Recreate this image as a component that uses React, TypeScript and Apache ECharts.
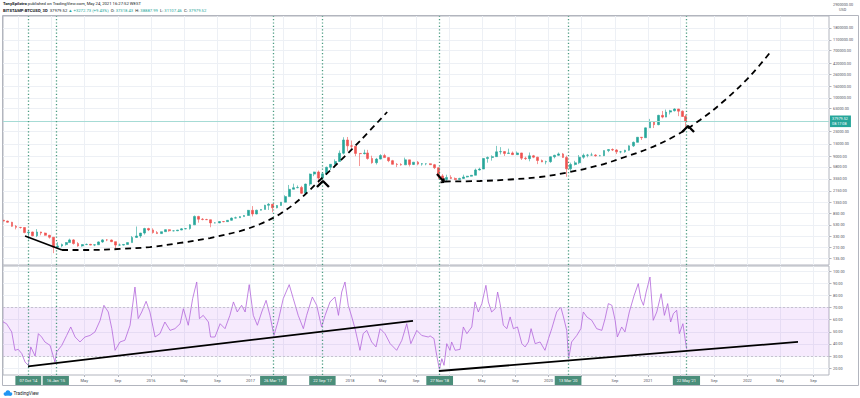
import { useEffect, useRef } from "react";
import * as echarts from "echarts";

// [date (mid-period), open, high, low, close] — roughly semi-monthly candles
const candles: [string, number, number, number, number][] = [
  ["2014-07-08", 640, 650, 615, 620], ["2014-07-23", 620, 630, 580, 590],
  ["2014-08-08", 590, 600, 490, 500], ["2014-08-23", 500, 525, 440, 478],
  ["2014-09-08", 478, 485, 455, 475], ["2014-09-23", 475, 480, 375, 385],
  ["2014-10-08", 385, 410, 290, 395], ["2014-10-23", 395, 400, 330, 338],
  ["2014-11-08", 338, 445, 320, 395], ["2014-11-23", 395, 400, 345, 378],
  ["2014-12-08", 378, 385, 340, 345], ["2014-12-23", 345, 350, 300, 318],
  ["2015-01-08", 318, 320, 165, 210], ["2015-01-23", 210, 260, 200, 222],
  ["2015-02-08", 222, 245, 210, 235], ["2015-02-23", 235, 260, 225, 255],
  ["2015-03-08", 255, 300, 255, 285], ["2015-03-23", 285, 295, 235, 245],
  ["2015-04-08", 245, 260, 215, 222], ["2015-04-23", 222, 238, 215, 235],
  ["2015-05-08", 235, 245, 230, 237], ["2015-05-23", 237, 242, 228, 230],
  ["2015-06-08", 230, 238, 220, 233], ["2015-06-23", 233, 268, 232, 262],
  ["2015-07-08", 262, 295, 252, 285], ["2015-07-23", 285, 295, 270, 284],
  ["2015-08-08", 284, 290, 260, 265], ["2015-08-23", 265, 265, 200, 230],
  ["2015-09-08", 230, 245, 225, 230], ["2015-09-23", 230, 240, 225, 236],
  ["2015-10-08", 236, 255, 235, 255], ["2015-10-23", 255, 335, 255, 315],
  ["2015-11-08", 315, 495, 310, 335], ["2015-11-23", 335, 380, 310, 378],
  ["2015-12-08", 378, 470, 355, 455], ["2015-12-23", 455, 470, 410, 430],
  ["2016-01-08", 430, 460, 370, 385], ["2016-01-23", 385, 410, 365, 370],
  ["2016-02-08", 370, 400, 365, 400], ["2016-02-23", 400, 440, 400, 435],
  ["2016-03-08", 435, 440, 400, 415], ["2016-03-23", 415, 420, 405, 415],
  ["2016-04-08", 415, 430, 410, 428], ["2016-04-23", 428, 465, 425, 450],
  ["2016-05-08", 450, 465, 440, 455], ["2016-05-23", 455, 545, 435, 530],
  ["2016-06-08", 530, 780, 530, 750], ["2016-06-23", 750, 770, 580, 670],
  ["2016-07-08", 670, 700, 640, 660], ["2016-07-23", 660, 680, 650, 655],
  ["2016-08-08", 655, 660, 480, 575], ["2016-08-23", 575, 590, 565, 575],
  ["2016-09-08", 575, 615, 570, 608], ["2016-09-23", 608, 610, 590, 605],
  ["2016-10-08", 605, 645, 605, 640], ["2016-10-23", 640, 720, 630, 700],
  ["2016-11-08", 700, 745, 690, 710], ["2016-11-23", 710, 755, 705, 745],
  ["2016-12-08", 745, 790, 745, 780], ["2016-12-23", 780, 980, 780, 965],
  ["2017-01-08", 965, 1150, 750, 830], ["2017-01-23", 830, 990, 820, 970],
  ["2017-02-08", 970, 1010, 960, 1000], ["2017-02-23", 1000, 1210, 1000, 1190],
  ["2017-03-08", 1190, 1300, 980, 1240], ["2017-03-23", 1240, 1260, 890, 1070],
  ["2017-04-08", 1070, 1200, 1050, 1180], ["2017-04-23", 1180, 1360, 1170, 1350],
  ["2017-05-08", 1350, 1800, 1340, 1700], ["2017-05-23", 1700, 2750, 1700, 2300],
  ["2017-06-08", 2300, 2900, 2300, 2450], ["2017-06-23", 2450, 2700, 2400, 2480],
  ["2017-07-08", 2480, 2650, 1900, 1950], ["2017-07-23", 1950, 2900, 1850, 2850],
  ["2017-08-08", 2850, 4400, 2650, 4300], ["2017-08-23", 4300, 4750, 3950, 4700],
  ["2017-09-08", 4700, 5000, 2950, 3650], ["2017-09-23", 3650, 4400, 3550, 4350],
  ["2017-10-08", 4350, 5850, 4150, 5700], ["2017-10-23", 5700, 6450, 5100, 6450],
  ["2017-11-08", 6450, 7900, 5550, 7250], ["2017-11-23", 7250, 11400, 7200, 10200],
  ["2017-12-08", 10200, 19700, 9700, 17600], ["2017-12-23", 17600, 19900, 11000, 13800],
  ["2018-01-08", 13800, 17200, 12500, 13600], ["2018-01-23", 13600, 13700, 9000, 10100],
  ["2018-02-08", 10100, 10200, 6000, 10000], ["2018-02-23", 10000, 11800, 9700, 10300],
  ["2018-03-08", 10300, 11700, 7800, 8200], ["2018-03-23", 8200, 9200, 6600, 6900],
  ["2018-04-08", 6900, 8400, 6400, 8000], ["2018-04-23", 8000, 9800, 7900, 9250],
  ["2018-05-08", 9250, 9950, 8400, 8500], ["2018-05-23", 8500, 8600, 7050, 7500],
  ["2018-06-08", 7500, 7750, 6400, 6450], ["2018-06-23", 6450, 6800, 5750, 6400],
  ["2018-07-08", 6400, 6750, 6100, 6300], ["2018-07-23", 6300, 8500, 6300, 7750],
  ["2018-08-08", 7750, 7750, 5900, 6400], ["2018-08-23", 6400, 7100, 6250, 7050],
  ["2018-09-08", 7050, 7400, 6200, 6500], ["2018-09-23", 6500, 6800, 6100, 6600],
  ["2018-10-08", 6600, 6700, 6200, 6600], ["2018-10-23", 6600, 6700, 6300, 6350],
  ["2018-11-08", 6350, 6550, 5300, 5600], ["2018-11-23", 5600, 5650, 3500, 4000],
  ["2018-12-08", 4000, 4300, 3150, 3450], ["2018-12-23", 3450, 4200, 3250, 3750],
  ["2019-01-08", 3750, 4100, 3500, 3600], ["2019-01-23", 3600, 3750, 3350, 3450],
  ["2019-02-08", 3450, 3700, 3400, 3600], ["2019-02-23", 3600, 4200, 3550, 3820],
  ["2019-03-08", 3820, 4000, 3750, 3950], ["2019-03-23", 3950, 4150, 3900, 4100],
  ["2019-04-08", 4100, 5400, 4100, 5100], ["2019-04-23", 5100, 5600, 5000, 5300],
  ["2019-05-08", 5300, 8300, 5300, 8200], ["2019-05-23", 8200, 8900, 6900, 8550],
  ["2019-06-08", 8550, 9350, 7500, 8850], ["2019-06-23", 8850, 13800, 8850, 10800],
  ["2019-07-08", 10800, 13100, 9700, 10900], ["2019-07-23", 10900, 11100, 9100, 10100],
  ["2019-08-08", 10100, 12300, 10000, 10300], ["2019-08-23", 10300, 10950, 9450, 9600],
  ["2019-09-08", 9600, 10950, 9550, 10300], ["2019-09-23", 10300, 10350, 7700, 8300],
  ["2019-10-08", 8300, 8850, 7700, 8150], ["2019-10-23", 8150, 10500, 7300, 9150],
  ["2019-11-08", 9150, 9500, 8300, 8650], ["2019-11-23", 8650, 8800, 6500, 7550],
  ["2019-12-08", 7550, 7850, 7050, 7100], ["2019-12-23", 7100, 7500, 6450, 7200],
  ["2020-01-08", 7200, 8900, 6850, 8800], ["2020-01-23", 8800, 9550, 8250, 9350],
  ["2020-02-08", 9350, 10500, 9150, 9900], ["2020-02-23", 9900, 10300, 8450, 8550],
  ["2020-03-08", 8550, 9200, 3850, 5350], ["2020-03-23", 5350, 6900, 4900, 6400],
  ["2020-04-08", 6400, 7450, 6150, 6850], ["2020-04-23", 6850, 9450, 6500, 8650],
  ["2020-05-08", 8650, 10050, 8100, 9350], ["2020-05-23", 9350, 9900, 8600, 9450],
  ["2020-06-08", 9450, 10400, 9250, 9450], ["2020-06-23", 9450, 9800, 8850, 9150],
  ["2020-07-08", 9150, 9500, 9000, 9200], ["2020-07-23", 9200, 11450, 9050, 11350],
  ["2020-08-08", 11350, 12100, 10650, 11850], ["2020-08-23", 11850, 12450, 11150, 11650],
  ["2020-09-08", 11650, 12050, 9850, 10800], ["2020-09-23", 10800, 11200, 10150, 10800],
  ["2020-10-08", 10800, 11750, 10400, 11500], ["2020-10-23", 11500, 14100, 11300, 13800],
  ["2020-11-08", 13800, 16500, 13200, 15950], ["2020-11-23", 15950, 19850, 15900, 19700],
  ["2020-12-08", 19700, 19900, 17600, 19300], ["2020-12-23", 19300, 29300, 19300, 29000],
  ["2021-01-08", 29000, 42000, 29000, 36800], ["2021-01-23", 36800, 38500, 28800, 33100],
  ["2021-02-08", 33100, 49700, 32300, 48600], ["2021-02-23", 48600, 58350, 43000, 45200],
  ["2021-03-08", 45200, 61800, 45000, 55600], ["2021-03-23", 55600, 61000, 50500, 58800],
  ["2021-04-08", 58800, 64900, 57000, 63200], ["2021-04-23", 63200, 63500, 47000, 57700],
  ["2021-05-08", 57700, 59600, 45700, 46400], ["2021-05-20", 46400, 50000, 30000, 37979.52],
];

// RSI(14) readings [date, value]
const rsiPoints: [string, number][] = [
  ["2014-07-02", 58.7], ["2014-07-19", 56.7], ["2014-08-07", 49.9], ["2014-08-19", 34.7], ["2014-08-31", 35.5],
  ["2014-09-13", 32], ["2014-09-25", 25], ["2014-10-07", 22.3], ["2014-10-16", 37.5], ["2014-11-01", 30],
  ["2014-11-13", 48.5], ["2014-11-25", 45.7], ["2014-12-07", 41.6], ["2014-12-26", 38.8], ["2015-01-13", 25],
  ["2015-01-19", 33.3], ["2015-02-07", 38.8], ["2015-02-25", 47], ["2015-03-12", 54], ["2015-03-28", 45.7],
  ["2015-04-15", 41.6], ["2015-05-03", 45.7], ["2015-05-22", 47], ["2015-06-09", 49.9], ["2015-06-28", 59.5],
  ["2015-07-12", 71.9], ["2015-07-28", 66.4], ["2015-08-10", 52.6], ["2015-08-22", 34.7], ["2015-09-09", 41.6],
  ["2015-09-27", 43], ["2015-10-16", 55.4], ["2015-11-03", 87], ["2015-11-15", 60.9], ["2015-11-28", 66.4],
  ["2015-12-14", 75.2], ["2015-12-28", 66.4], ["2016-01-16", 45.7], ["2016-02-03", 48.5], ["2016-02-21", 58.1],
  ["2016-03-11", 51.2], ["2016-03-29", 52.6], ["2016-04-17", 56.7], ["2016-04-29", 69.1], ["2016-05-17", 55.4],
  ["2016-06-02", 77.4], ["2016-06-17", 91.2], ["2016-06-27", 60.9], ["2016-07-11", 63.6], ["2016-07-30", 58.1],
  ["2016-08-07", 45.7], ["2016-08-23", 45.7], ["2016-09-11", 56.7], ["2016-09-29", 52.6], ["2016-10-17", 63.6],
  ["2016-10-30", 74.7], ["2016-11-13", 66.4], ["2016-11-29", 71.9], ["2016-12-12", 66.4], ["2016-12-27", 89],
  ["2017-01-11", 63.6], ["2017-01-26", 55.4], ["2017-02-11", 66.4], ["2017-02-27", 76], ["2017-03-13", 63.6],
  ["2017-03-28", 47], ["2017-04-13", 59.5], ["2017-05-01", 77.4], ["2017-05-23", 89], ["2017-06-07", 77.4],
  ["2017-06-25", 63.6], ["2017-07-14", 52.6], ["2017-07-26", 63.6], ["2017-08-16", 78.8], ["2017-09-01", 71.9],
  ["2017-09-19", 54], ["2017-10-02", 63.6], ["2017-10-20", 74.7], ["2017-11-07", 78.8], ["2017-11-20", 63.6],
  ["2017-12-02", 82.9], ["2017-12-14", 91.2], ["2017-12-26", 71.9], ["2018-01-08", 62.3], ["2018-01-20", 52.6],
  ["2018-02-07", 34.7], ["2018-02-19", 48.5], ["2018-03-04", 51.2], ["2018-03-22", 41.6], ["2018-04-07", 37.5],
  ["2018-04-22", 52.6], ["2018-05-10", 48.5], ["2018-05-29", 40.2], ["2018-06-22", 34.7], ["2018-07-11", 43],
  ["2018-07-29", 56.7], ["2018-08-13", 40.2], ["2018-09-04", 51.2], ["2018-09-22", 47], ["2018-10-16", 45.7],
  ["2018-10-23", 46.6], ["2018-11-06", 44.4], ["2018-11-16", 30.6], ["2018-11-26", 19], ["2018-12-05", 27.8],
  ["2018-12-13", 22.3], ["2018-12-23", 40.2], ["2019-01-04", 34.7], ["2019-01-10", 41.6], ["2019-01-23", 34.7],
  ["2019-02-10", 35.5], ["2019-02-22", 54], ["2019-03-07", 48.5], ["2019-03-25", 54], ["2019-04-06", 74.7],
  ["2019-04-18", 66.4], ["2019-05-01", 73.3], ["2019-05-16", 88.4], ["2019-05-25", 74.7], ["2019-06-06", 66.4],
  ["2019-06-19", 69.1], ["2019-06-28", 82.9], ["2019-07-07", 73.3], ["2019-07-19", 55.4], ["2019-08-01", 52.6],
  ["2019-08-13", 62.3], ["2019-08-25", 52.6], ["2019-09-09", 54], ["2019-09-25", 40.2], ["2019-10-07", 37.5],
  ["2019-10-19", 41.6], ["2019-10-29", 52.6], ["2019-11-13", 40.2], ["2019-12-01", 41.6], ["2019-12-19", 34.7],
  ["2020-01-01", 44.4], ["2020-01-13", 52.6], ["2020-01-31", 66.4], ["2020-02-15", 70.5], ["2020-02-25", 62.3],
  ["2020-03-08", 51.2], ["2020-03-15", 27.8], ["2020-03-26", 41.6], ["2020-04-14", 47], ["2020-04-29", 52.6],
  ["2020-05-08", 66.4], ["2020-05-21", 62.3], ["2020-06-08", 59.5], ["2020-06-26", 52.6], ["2020-07-15", 51.2],
  ["2020-07-27", 60.9], ["2020-08-08", 73.3], ["2020-08-21", 71.9], ["2020-09-02", 59.5], ["2020-09-10", 45.7],
  ["2020-09-26", 54], ["2020-10-08", 49.9], ["2020-10-24", 66.4], ["2020-11-11", 80.2], ["2020-11-26", 89.8],
  ["2020-12-05", 77.4], ["2020-12-15", 71.9], ["2020-12-25", 82.9], ["2021-01-08", 95.3], ["2021-01-20", 59.5],
  ["2021-02-02", 66.4], ["2021-02-18", 81.5], ["2021-03-02", 63.6], ["2021-03-14", 73.3], ["2021-03-25", 58.1],
  ["2021-04-04", 65], ["2021-04-16", 67.8], ["2021-04-26", 48.5], ["2021-05-09", 56.7], ["2021-05-17", 44.4],
  ["2021-05-23", 35.5],
];

// Drawn annotations, in [date, price] / [date, RSI]
const curveLeft: [string, number][] = [
  ["2015-02-08", 188], ["2015-05-22", 188], ["2015-09-09", 196], ["2015-12-28", 212], ["2016-04-17", 251],
  ["2016-08-05", 308], ["2016-11-23", 411], ["2017-02-05", 549], ["2017-04-19", 830], ["2017-07-02", 1540],
  ["2017-09-13", 3374], ["2017-11-26", 7389], ["2018-02-07", 16870], ["2018-05-18", 55800],
];
const curveRight: [string, number][] = [
  ["2018-12-16", 3172], ["2019-04-24", 3238], ["2019-08-13", 3444], ["2019-12-01", 3819], ["2020-03-20", 4693],
  ["2020-07-09", 6266], ["2020-10-08", 8715], ["2021-01-08", 12637], ["2021-04-10", 20740], ["2021-07-11", 40120],
  ["2021-10-11", 91600], ["2022-01-11", 246600], ["2022-04-02", 721000],
];
const priceTrend: [string, number][] = [["2014-09-25", 335], ["2015-02-08", 188]];
const caretA: [string, number][] = [["2017-09-02", 2528], ["2017-09-24", 3237], ["2017-10-16", 2528]];
const caretB: [string, number][] = [["2021-05-06", 24460], ["2021-05-28", 31320], ["2021-06-19", 24460]];
const arrowDown: [string, number][] = [["2018-11-17", 4321], ["2018-12-13", 3107]];
const arrowHead: [string, number][] = [["2018-11-30", 3060], ["2018-12-13", 3107], ["2018-12-12", 3600]];
const rsiTrendA: [string, number][] = [["2014-10-06", 21.5], ["2018-08-21", 59]];
const rsiTrendB: [string, number][] = [["2018-11-24", 17.6], ["2022-07-06", 41.6]];

const eventDates = ["2014-10-07", "2015-01-16", "2017-03-26", "2017-09-22", "2018-11-27", "2020-03-13", "2021-05-22"];
const monthTicks = [
  "2014-09-01", "2015-01-01", "2015-05-01", "2015-09-01", "2016-01-01", "2016-05-01", "2016-09-01",
  "2017-01-01", "2017-05-01", "2017-09-01", "2018-01-01", "2018-05-01", "2018-09-01", "2019-01-01",
  "2019-05-01", "2019-09-01", "2020-01-01", "2020-05-01", "2020-09-01", "2021-01-01", "2021-05-01",
  "2021-09-01", "2022-01-01", "2022-05-01", "2022-09-01",
];
const priceTicks = [135, 210, 330, 530, 850, 1350, 2150, 3550, 5800, 9000, 15000, 25000, 65000, 100000, 160000, 260000, 420000, 700000, 1100000, 1800000];
const rsiTicks = [20, 30, 40, 50, 60, 70, 80, 90, 100];
const lastPrice = 37979.52;
const xStart = "2014-07-06";
const xEnd = "2022-10-28";

const FONT = "Roboto, 'Liberation Sans', sans-serif";
const MONTHS = ["Jan", "Feb", "Mar", "Apr", "May", "Jun", "Jul", "Aug", "Sep", "Oct", "Nov", "Dec"];
const DAY = 86400000;
const ts = (s: string) => {
  const [y, m, d] = s.split("-").map(Number);
  return Date.UTC(y, m - 1, d);
};
const lg = (v: number) => Math.log10(v);
const GRID_LINE = "#edf0f5";
const FRAME = "#b2b5be";
const AXIS_TEXT = "#50535e";
const EVENT_LINE = { color: "#4a9a80", type: [1.2, 2.2] as number[], width: 1.3 };

function buildOption() {
  const priceLine = (pts: [string, number][], dashed: boolean, width: number) => ({
    type: "line",
    xAxisIndex: 0,
    yAxisIndex: 0,
    data: pts.map(([d, p]) => [ts(d), lg(p)]),
    showSymbol: false,
    symbol: "none",
    smooth: dashed ? 0.35 : false,
    silent: true,
    z: 5,
    lineStyle: { color: "#000", width, type: dashed ? [6, 4.5] : "solid", cap: "butt" },
  });
  const rsiLine = (pts: [string, number][]) => ({
    type: "line",
    xAxisIndex: 1,
    yAxisIndex: 1,
    data: pts.map(([d, v]) => [ts(d), v]),
    showSymbol: false,
    symbol: "none",
    silent: true,
    z: 5,
    lineStyle: { color: "#000", width: 1.8 },
  });
  const eventMarks = eventDates.map((d) => ({ xAxis: ts(d) }));
  const xRange = { min: ts(xStart), max: ts(xEnd) };
  // month labels that are not covered by the highlighted date boxes
  const monthLabels = monthTicks
    .map(ts)
    .filter((t) => eventDates.every((e) => Math.abs(t - ts(e)) > 55 * DAY));

  return {
    animation: false,
    backgroundColor: "#ffffff",
    textStyle: { fontFamily: FONT },
    grid: [
      { left: 3, right: 31, top: 16, height: 249, show: true, borderColor: FRAME, borderWidth: 1 },
      { left: 3, right: 31, top: 266, height: 109, show: true, borderColor: FRAME, borderWidth: 1 },
    ],
    xAxis: [
      {
        type: "value", gridIndex: 0, ...xRange,
        axisLine: { show: false }, axisLabel: { show: false },
        axisTick: { show: false, customValues: monthTicks.map(ts) },
        splitLine: { show: true, lineStyle: { color: GRID_LINE, width: 1 } },
      },
      {
        type: "value", gridIndex: 1, position: "bottom", ...xRange,
        axisLine: { show: false },
        axisTick: { show: true, length: 2, lineStyle: { color: FRAME }, customValues: monthTicks.map(ts) },
        splitLine: { show: true, lineStyle: { color: GRID_LINE, width: 1 } },
        axisLabel: {
          customValues: monthLabels, fontSize: 4, color: AXIS_TEXT, margin: 3, fontFamily: FONT,
          formatter: (v: number) => {
            const d = new Date(v);
            return d.getUTCMonth() === 0 ? String(d.getUTCFullYear()) : MONTHS[d.getUTCMonth()];
          },
        },
      },
      {
        type: "value", gridIndex: 1, position: "bottom", ...xRange, z: 10,
        axisLine: { show: false }, axisTick: { show: false }, splitLine: { show: false },
        axisLabel: {
          customValues: eventDates.map(ts), fontSize: 4, color: "#ffffff", margin: 1,
          backgroundColor: "#4a8e7a", padding: [2.6, 4, 2.4, 4], fontFamily: FONT,
          formatter: (v: number) => {
            const d = new Date(v);
            const dd = String(d.getUTCDate()).padStart(2, "0");
            const yy = String(d.getUTCFullYear()).slice(2);
            return `${dd} ${MONTHS[d.getUTCMonth()]} '${yy}`;
          },
        },
      },
    ],
    yAxis: [
      {
        type: "value", gridIndex: 0, position: "right", min: 2.0049, max: 6.4672,
        axisLine: { show: false },
        axisTick: { show: true, length: 2.5, lineStyle: { color: FRAME }, customValues: priceTicks.map(lg) },
        splitLine: { show: true, lineStyle: { color: GRID_LINE, width: 1 } },
        axisLabel: {
          customValues: priceTicks.map(lg), fontSize: 3.8, color: AXIS_TEXT, margin: 4, fontFamily: FONT,
          formatter: (v: number) => Math.round(Math.pow(10, v)).toFixed(2),
        },
      },
      {
        type: "value", gridIndex: 1, position: "right", min: 14.3, max: 104.4,
        axisLine: { show: false },
        axisTick: { show: true, length: 2.5, lineStyle: { color: FRAME }, customValues: rsiTicks },
        splitLine: { show: true, lineStyle: { color: GRID_LINE, width: 1 } },
        axisLabel: {
          customValues: rsiTicks, fontSize: 3.8, color: AXIS_TEXT, margin: 4, fontFamily: FONT,
          formatter: (v: number) => v.toFixed(2),
        },
      },
    ],
    series: [
      {
        type: "line",
        name: "lastPrice",
        xAxisIndex: 0,
        yAxisIndex: 0,
        data: [[ts(xStart), lg(lastPrice)]],
        symbol: "none",
        lineStyle: { opacity: 0 },
        silent: true,
        z: 2,
        markLine: {
          symbol: ["none", "none"], silent: true,
          lineStyle: { color: "#a6dbd5", type: "solid", width: 1 },
          label: {
            show: true, position: "end", distance: 1, formatter: "37979.52\n08:17:08",
            backgroundColor: "#26a69a", color: "#ffffff", fontSize: 3.8, lineHeight: 4.8,
            padding: [1, 3, 1, 2], fontFamily: FONT,
          },
          data: [{ yAxis: lg(lastPrice) }],
        },
      },
      {
        type: "candlestick",
        name: "BTCUSD",
        xAxisIndex: 0,
        yAxisIndex: 0,
        barWidth: 2.3,
        z: 3,
        silent: true,
        encode: { x: 0, y: [1, 2, 3, 4] },
        data: candles.map(([d, o, h, l, c]) => [ts(d), lg(o), lg(c), lg(l), lg(h)]),
        itemStyle: {
          color: "#26a69a", color0: "#ef5350", borderColor: "#26a69a", borderColor0: "#ef5350", borderWidth: 0.6,
        },
        markLine: {
          symbol: ["none", "none"], silent: true,
          label: { show: false },
          lineStyle: EVENT_LINE,
          data: eventMarks,
        },
      },
      priceLine(curveLeft, true, 1.8),
      priceLine(curveRight, true, 1.8),
      priceLine(priceTrend, false, 1.6),
      priceLine(caretA, false, 2.4),
      priceLine(caretB, false, 2.4),
      priceLine(arrowDown, false, 2.2),
      priceLine(arrowHead, false, 1.8),
      {
        type: "line",
        name: "band",
        xAxisIndex: 1,
        yAxisIndex: 1,
        data: [[ts(xStart), 50]],
        symbol: "none",
        lineStyle: { opacity: 0 },
        silent: true,
        z: 1,
        markArea: {
          silent: true,
          itemStyle: { color: "rgba(170,60,240,0.11)" },
          data: [[{ yAxis: 70 }, { yAxis: 30 }]],
        },
        markLine: {
          symbol: ["none", "none"], silent: true, label: { show: false },
          lineStyle: { color: "#bdb6c8", type: [2, 2], width: 0.8 },
          data: [{ yAxis: 70 }, { yAxis: 30 }],
        },
      },
      {
        type: "line",
        name: "RSI",
        xAxisIndex: 1,
        yAxisIndex: 1,
        data: rsiPoints.map(([d, v]) => [ts(d), v]),
        showSymbol: false,
        symbol: "none",
        silent: true,
        z: 3,
        lineStyle: { color: "#b366da", width: 0.8 },
        markLine: {
          symbol: ["none", "none"], silent: true, label: { show: false },
          lineStyle: EVENT_LINE,
          data: eventMarks,
        },
      },
      rsiLine(rsiTrendA),
      rsiLine(rsiTrendB),
    ],
    graphic: [
      {
        type: "rect", silent: true, z: 20,
        shape: { x: 2.5, y: 15.5, width: 856, height: 370 },
        style: { fill: "none", stroke: FRAME, lineWidth: 1 },
      },
      {
        type: "text", left: 3, top: 1, silent: true,
        style: {
          text: "{b|TonySpilotro} published on TradingView.com, May 24, 2021 16:27:52 WEST",
          fontSize: 4.2, fill: "#131722", fontFamily: FONT,
          rich: { b: { fontWeight: "bold", fontSize: 4.2, fontFamily: FONT } },
        },
      },
      {
        type: "text", left: 3, top: 8, silent: true,
        style: {
          text: "{b|BITSTAMP:BTCUSD, 3D}  37979.52 {g|▲} {g|+3272.73 (+9.43%)}  O: {g|37318.43}  H: {g|38887.99}  L: {g|31107.46}  C: {g|37979.52}",
          fontSize: 4.2, fill: "#131722", fontFamily: FONT,
          rich: {
            b: { fontWeight: "bold", fontSize: 4.2, fontFamily: FONT },
            g: { fill: "#26a69a", fontSize: 4.2, fontFamily: FONT },
          },
        },
      },
      {
        type: "text", left: 833, top: 2, silent: true,
        style: { text: "2900000.00", fontSize: 3.8, fill: AXIS_TEXT, fontFamily: FONT },
      },
      {
        type: "text", left: 839, top: 7, silent: true,
        style: { text: "USD", fontSize: 3.8, fill: AXIS_TEXT, fontFamily: FONT },
      },
      { type: "circle", silent: true, shape: { cx: 5.3, cy: 394, r: 1.7 }, style: { fill: "#2196f3" } },
      { type: "circle", silent: true, shape: { cx: 7.9, cy: 392.6, r: 2.3 }, style: { fill: "#2196f3" } },
      { type: "circle", silent: true, shape: { cx: 10.6, cy: 394, r: 1.7 }, style: { fill: "#2196f3" } },
      { type: "rect", silent: true, shape: { x: 5.3, y: 393.5, width: 5.3, height: 2.2 }, style: { fill: "#2196f3" } },
      {
        type: "text", left: 13.5, top: 390.5, silent: true,
        style: { text: "TradingView", fontSize: 4.6, fill: "#131722", fontFamily: FONT },
      },
    ],
  };
}

export default function App() {
  const ref = useRef<HTMLDivElement>(null);
  useEffect(() => {
    if (!ref.current) return;
    const chart = echarts.init(ref.current, null, { renderer: "svg" });
    chart.setOption(buildOption() as any);
    return () => chart.dispose();
  }, []);
  return (
    <div
      ref={ref}
      style={{ position: "fixed", left: 0, top: 0, width: 860, height: 398, background: "#fff" }}
    />
  );
}
